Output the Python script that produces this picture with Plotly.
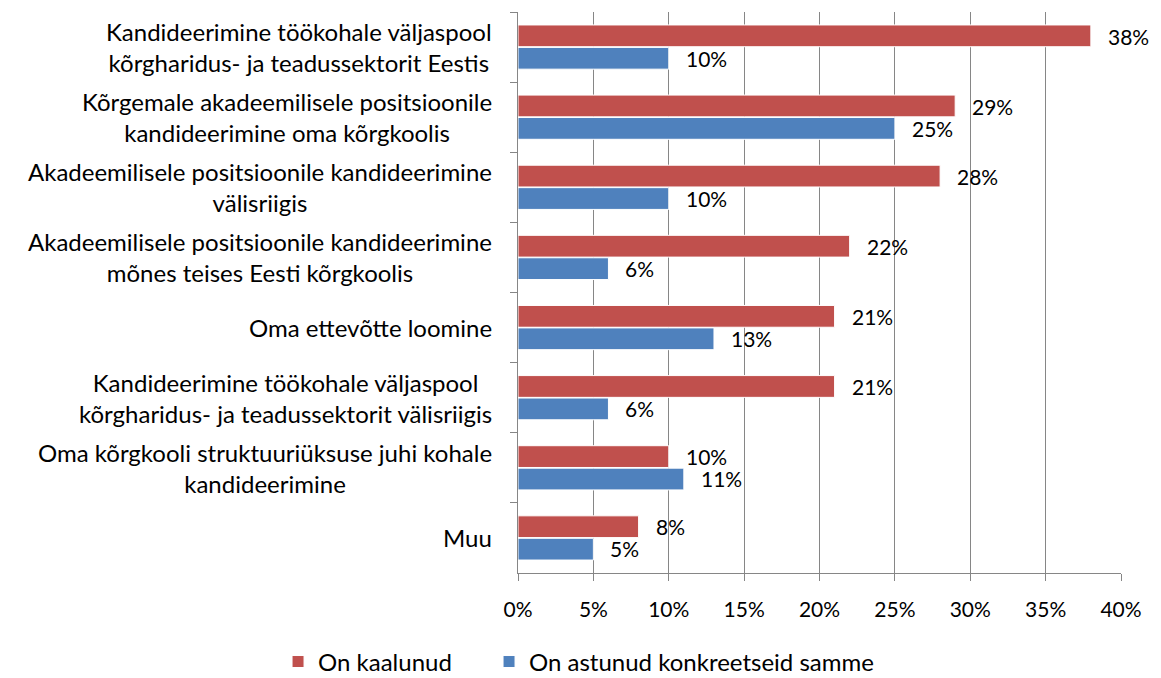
import plotly.graph_objects as go

categories = [
    "Kandideerimine töökohale väljaspool<br>kõrgharidus- ja teadussektorit Eestis",
    "Kõrgemale akadeemilisele positsioonile<br>kandideerimine oma kõrgkoolis",
    "Akadeemilisele positsioonile kandideerimine<br>välisriigis",
    "Akadeemilisele positsioonile kandideerimine<br>mõnes teises Eesti kõrgkoolis",
    "Oma ettevõtte loomine",
    "Kandideerimine töökohale väljaspool<br>kõrgharidus- ja teadussektorit välisriigis",
    "Oma kõrgkooli struktuuriüksuse juhi kohale<br>kandideerimine",
    "Muu",
]
considered = [38, 29, 28, 22, 21, 21, 10, 8]
taken_steps = [10, 25, 10, 6, 13, 6, 11, 5]
series_names = ["On kaalunud", "On astunud konkreetseid samme"]
tick_vals = [0, 5, 10, 15, 20, 25, 30, 35, 40]
tick_text = [f"{v}%" for v in tick_vals]

RED = "#C0504D"
BLUE = "#4F81BD"
GRID = "#868686"
FONT = "Lato"
TEXT_SIZE = 24
NUM_SIZE = 21

fig = go.Figure()
fig.add_trace(go.Bar(
    y=categories, x=considered, name=series_names[0], orientation="h",
    marker=dict(color=RED, line=dict(color="white", width=1)), legend="legend",
))
fig.add_trace(go.Bar(
    y=categories, x=taken_steps, name=series_names[1], orientation="h",
    marker=dict(color=BLUE, line=dict(color="white", width=1)), legend="legend2",
))

annotations = []
for cat, r, b in zip(categories, considered, taken_steps):
    annotations.append(dict(x=r, y=cat, text=f"{r}%", xanchor="left", yanchor="middle",
                            xshift=15, yshift=11, showarrow=False,
                            font=dict(family=FONT, size=NUM_SIZE, color="black")))
    annotations.append(dict(x=b, y=cat, text=f"{b}%", xanchor="left", yanchor="middle",
                            xshift=15, yshift=-11, showarrow=False,
                            font=dict(family=FONT, size=NUM_SIZE, color="black")))
    annotations.append(dict(x=0, xref="paper", y=cat, text=cat, xanchor="right",
                            yanchor="middle", xshift=-24, align="center", showarrow=False,
                            font=dict(family=FONT, size=TEXT_SIZE, color="black")))

legend_common = dict(orientation="h", xref="container", xanchor="left",
                     yref="container", y=0.024, yanchor="middle",
                     font=dict(family=FONT, size=TEXT_SIZE, color="black"),
                     itemwidth=30, bgcolor="rgba(0,0,0,0)")

fig.update_layout(
    width=1153, height=670,
    margin=dict(l=510, r=40, t=4, b=105),
    paper_bgcolor="white", plot_bgcolor="white",
    barmode="group", bargap=0.36, bargroupgap=0.03,
    font=dict(family=FONT, size=NUM_SIZE, color="black"),
    annotations=annotations,
    showlegend=True,
    legend=dict(x=0.2342, **legend_common),
    legend2=dict(x=0.4172, **legend_common),
)
fig.update_xaxes(
    range=[0, 40], tickvals=tick_vals, ticktext=tick_text,
    showgrid=True, gridcolor=GRID, gridwidth=1.3,
    showline=True, linecolor=GRID, linewidth=1.3,
    ticks="outside", ticklen=7, tickcolor=GRID, tickwidth=1.3,
    ticklabelstandoff=11,
    zeroline=False, tickfont=dict(family=FONT, size=NUM_SIZE, color="black"),
)
fig.update_yaxes(
    autorange="reversed", showticklabels=False,
    showline=True, linecolor=GRID, linewidth=1.3,
    ticks="outside", ticklen=7, tickcolor=GRID, tickwidth=1.3,
    tickson="boundaries", showgrid=False,
)

fig.write_html("out.html")
